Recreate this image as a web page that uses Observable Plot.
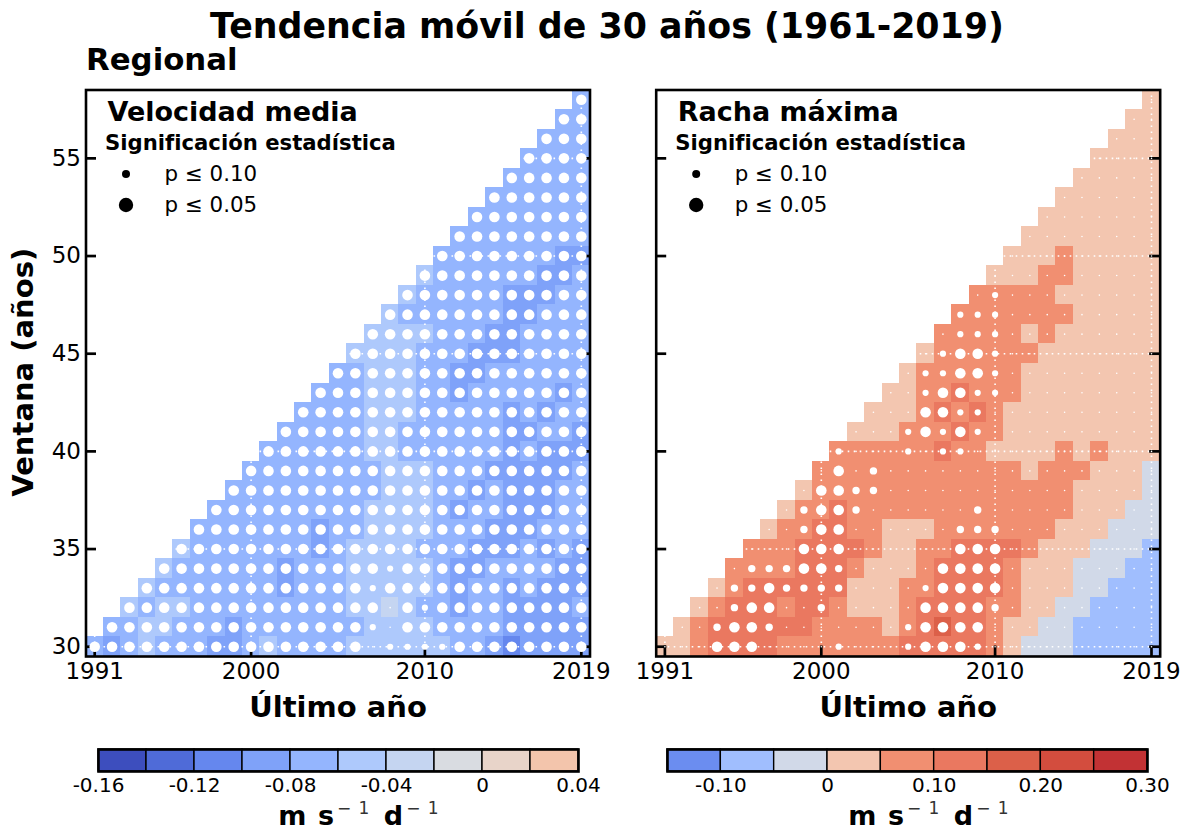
<!DOCTYPE html>
<html lang="es">
<head>
<meta charset="utf-8">
<script src="https://cdn.jsdelivr.net/npm/d3@7"></script>
<script src="https://cdn.jsdelivr.net/npm/@observablehq/plot@0.6"></script>
<style>
html,body{margin:0;padding:0;background:#fff;}
#page{position:relative;width:1184px;height:834px;font-family:"DejaVu Sans",sans-serif;color:#000;}
#page svg{position:absolute;}
.t{position:absolute;white-space:nowrap;line-height:1;}
.u{font-weight:bold;font-size:27px;transform:translateX(-50%);word-spacing:2px;}
.u span{font-weight:normal;font-size:17px;color:#333;vertical-align:11px;margin:0 3px;}
</style>
</head>
<body>
<div id="page">
<div class="t" style="left:607px;top:9px;transform:translateX(-50%);font-weight:bold;font-size:34.8px;">Tendencia móvil de 30 años (1961-2019)</div>
<div class="t" style="left:86px;top:44px;font-weight:bold;font-size:30.8px;">Regional</div>
<div class="t u" style="left:360px;top:800px;">m s<span>− 1</span> d<span>− 1</span></div>
<div class="t u" style="left:930px;top:800px;">m s<span>− 1</span> d<span>− 1</span></div>
</div>
<script>
// Categories and axis ticks
const windows = d3.range(30, 59);            // window length, bottom row to top row
const firstYearOffset = 1961;                // a window w starts at last year 1961 + w
const xTicks = [1991, 2000, 2010, 2019];
const yTicks = [30, 35, 40, 45, 50, 55];

// Trend classes: bin edges (m s-1 d-1) and the class read from each cell
const speedEdges = [-0.16,-0.14,-0.12,-0.10,-0.08,-0.06,-0.04,-0.02,0,0.02,0.04];
const gustEdges = [-0.15,-0.10,-0.05,0,0.05,0.10,0.15,0.20,0.25,0.30];
const speedTicks = [-0.16,-0.12,-0.08,-0.04,0,0.04];
const gustTicks = [-0.10,0,0.10,0.20,0.30];
const speedColors = ["#3d4ebe","#4f6bd8","#6587ee","#7fa2f9","#94b5fe","#aec9fc","#c5d5f1","#d9dce1","#e8d4c9","#f3c5ac"];
const gustColors = ["#6b8df0","#a0befe","#d1d9e8","#f3c6b0","#f18f71","#ea7860","#dc6049","#d34d3e","#c23234"];

// One string per window (30..58); one character per last year, oldest first
const speedClass = [
"43454443345444455555544323333",
"4455444344444445555444433333",
"545544444444455654434433334",
"54444444344455555434434333",
"5444444344455555433444433",
"544444443455554443334343",
"44444443445555444333444",
"4444444445555434433344",
"444444444555443433344",
"44444444555444333334",
"4444445544444434333",
"444445544444433443",
"44445554444434344",
"4445554434444434",
"445554433444444",
"55554443334444",
"5555444334444",
"544444433444",
"54444433344",
"5444444334",
"444444433",
"44444444","4444444","444444","44444","4444","444","44","4"];
const gustClass = [
"33455554444444555554322211111",
"3455555544443456554332211111",
"345554554333455554433221111",
"34555555333445555433322111",
"4444555433345555433322211",
"444555543344555543332221",
"34455443334444444333222",
"3445444444444444433322",
"344444444444444433332",
"44444444444434443332",
"4444445443333434333",
"333444544333333333",
"33345454333333333",
"3344544433333333",
"344444433333333",
"34444443333333",
"4444434333333",
"444444433333",
"44444333333",
"3334433333",
"333433333",
"33333333","3333333","333333","33333","3333","333","33","3"];

// Significance: 0 none, 1 and 2 p <= 0.10, 3 p <= 0.05
const speedSig = [
"33333333333333330111133333333",
"3333333333333331033333333333",
"333333333333333031333333333",
"33333333333331333333333333",
"3333333333333133333333333",
"333333333333333333333333",
"33333333333333333333333",
"3333333333333333333333",
"333333333333333333333",
"33333333333333333333",
"3333333333333333333",
"333333333333333333",
"33333333333333333",
"3333333333333333",
"333333333333333",
"33333333333333",
"3333333333333",
"333333333333",
"33333333333",
"3333333333",
"333333333",
"33333333","3333333","333333","33333","3333","333","33","3"];
const gustSig = [
"00033300001000133310000000000",
"0023320000000133330000000000",
"002330020000033332000000000",
"02232222000013333000000000",
"0222332000003333000000000",
"000333000000333000000000",
"00233000000222000000000",
"0233200000020000000000",
"033220000000000000000",
"03020000000000000000",
"1000101100000000000",
"000131310000000000",
"00033110000000000",
"0013311000000000",
"011331000000000",
"01331000000000",
"0111000000000",
"111000000000",
"01000000000",
"0000000000",
"000000000",
"00000000","0000000","000000","00000","0000","000","00","0"];

// Text
const xLabel = "Último año";
const yLabel = "Ventana (años)";
const legendTitle = "Significación estadística";
const legendItems = ["p ≤ 0.10", "p ≤ 0.05"];

// Styles
const dotRadius = [0.8, 3.1, 3.7, 5.3];
const legendRadius = [4, 7.2];
const font = '"DejaVu Sans", sans-serif';
const ink = "#000";
const tickLength = 10.5;
const tickWidth = 2.7;

function cellsOf(classRows, sigRows, edges) {
  const out = [];
  windows.forEach((w, r) => {
    [...classRows[r]].forEach((c, i) => {
      const k = +c;
      out.push({
        year: firstYearOffset + w + i, window: w,
        trend: (edges[k] + edges[k + 1]) / 2,
        sig: +(sigRows[r][i] ?? 0)
      });
    });
  });
  return out;
}

function panel({title, classRows, sigRows, edges, colors, left, marginLeft, showY}) {
  const W = 504, H = 566.5, top = 76, marginTop = 13.5, marginBottom = 72, marginRight = 22;
  const cells = cellsOf(classRows, sigRows, edges);
  const plot = Plot.plot({
    width: marginLeft + W + marginRight,
    height: marginTop + H + marginBottom,
    marginLeft, marginRight, marginTop, marginBottom,
    x: {domain: [1990.5, 2019.5], axis: null},
    y: {domain: [29.5, 58.5], axis: null},
    r: {type: "identity"},
    color: {type: "threshold", domain: edges.slice(1, -1), range: colors},
    style: {fontFamily: font, fontSize: "23px", color: ink, background: "transparent", overflow: "visible"},
    marks: [
      Plot.rect(cells, {
        x1: d => d.year - 0.5, x2: d => d.year + 0.5,
        y1: d => d.window - 0.5, y2: d => d.window + 0.5,
        fill: "trend", shapeRendering: "crispEdges"
      }),
      Plot.ruleX(xTicks, {x: d => d, stroke: "#fff", strokeWidth: 1.6, strokeDasharray: "1.6 4.4"}),
      Plot.ruleY(yTicks, {y: d => d, stroke: "#fff", strokeWidth: 1.6, strokeDasharray: "1.6 4.4"}),
      Plot.ruleX(xTicks, {x: d => d, insetTop: H - tickLength, stroke: ink, strokeWidth: tickWidth}),
      Plot.ruleY(yTicks, {y: d => d, insetRight: W - tickLength, stroke: ink, strokeWidth: tickWidth}),
      Plot.ruleY(yTicks, {y: d => d, insetLeft: W - tickLength, stroke: ink, strokeWidth: tickWidth}),
      Plot.dot(cells, {x: "year", y: "window", r: d => dotRadius[d.sig], fill: "#fff", stroke: "none"}),
      Plot.frame({stroke: ink, strokeWidth: 2.6}),
      Plot.axisX({ticks: xTicks, tickSize: 0, tickPadding: 6, tickFormat: "d", label: null, fontSize: 23}),
      showY ? Plot.axisY({ticks: yTicks, tickSize: 0, tickPadding: 5, tickFormat: "d", label: null, fontSize: 23}) : null,
      Plot.text([xLabel], {text: d => d, frameAnchor: "bottom", dy: 51, fontWeight: "bold", fontSize: 29, lineAnchor: "middle"}),
      showY ? Plot.text([yLabel], {text: d => d, frameAnchor: "left", textAnchor: "middle", rotate: -90, dx: -62, dy: -1, fontWeight: "bold", fontSize: 29, lineAnchor: "middle"}) : null,
      Plot.text([title], {text: d => d, frameAnchor: "top-left", dx: 21.5, dy: 22.5, fontWeight: "bold", fontSize: 27, lineAnchor: "middle"}),
      Plot.text([legendTitle], {text: d => d, frameAnchor: "top-left", dx: 19, dy: 53, fontWeight: "bold", fontSize: 21.2, lineAnchor: "middle"}),
      Plot.dot([legendItems[0]], {frameAnchor: "top-left", dx: 40, dy: 84, r: legendRadius[0], fill: ink}),
      Plot.dot([legendItems[1]], {frameAnchor: "top-left", dx: 40, dy: 115, r: legendRadius[1], fill: ink}),
      Plot.text([legendItems[0]], {text: d => d, frameAnchor: "top-left", dx: 78.5, dy: 84, fontSize: 21.4, lineAnchor: "middle"}),
      Plot.text([legendItems[1]], {text: d => d, frameAnchor: "top-left", dx: 78.5, dy: 115, fontSize: 21.4, lineAnchor: "middle"})
    ]
  });
  plot.style.left = left + "px";
  plot.style.top = top + "px";
  return plot;
}

function colorbar({edges, colors, ticks, left}) {
  const marginLeft = 40, marginRight = 40, W = 480;
  const bins = colors.map((_, k) => ({x1: edges[k], x2: edges[k + 1], mid: (edges[k] + edges[k + 1]) / 2}));
  const plot = Plot.plot({
    width: marginLeft + W + marginRight,
    height: 62,
    marginLeft, marginRight, marginTop: 8, marginBottom: 32,
    x: {domain: [edges[0], edges[edges.length - 1]], axis: null},
    color: {type: "threshold", domain: edges.slice(1, -1), range: colors},
    style: {fontFamily: font, fontSize: "20px", color: ink, background: "transparent", overflow: "visible"},
    marks: [
      Plot.rect(bins, {x1: "x1", x2: "x2", fill: "mid", stroke: ink, strokeWidth: 1.4}),
      Plot.frame({stroke: ink, strokeWidth: 2.6}),
      Plot.axisX({ticks, tickSize: 0, tickPadding: 6, label: null, fontSize: 20,
        tickFormat: d => d === 0 ? "0" : d.toFixed(2)})
    ]
  });
  plot.style.left = (left - marginLeft) + "px";
  plot.style.top = "741px";
  return plot;
}

const page = document.getElementById("page");
page.append(
  panel({title: "Velocidad media", classRows: speedClass, sigRows: speedSig, edges: speedEdges, colors: speedColors, left: 0, marginLeft: 85.5, showY: true}),
  panel({title: "Racha máxima", classRows: gustClass, sigRows: gustSig, edges: gustEdges, colors: gustColors, left: 620, marginLeft: 35.7, showY: false}),
  colorbar({edges: speedEdges, colors: speedColors, ticks: speedTicks, left: 98}),
  colorbar({edges: gustEdges, colors: gustColors, ticks: gustTicks, left: 667})
);
</script>
</body>
</html>
